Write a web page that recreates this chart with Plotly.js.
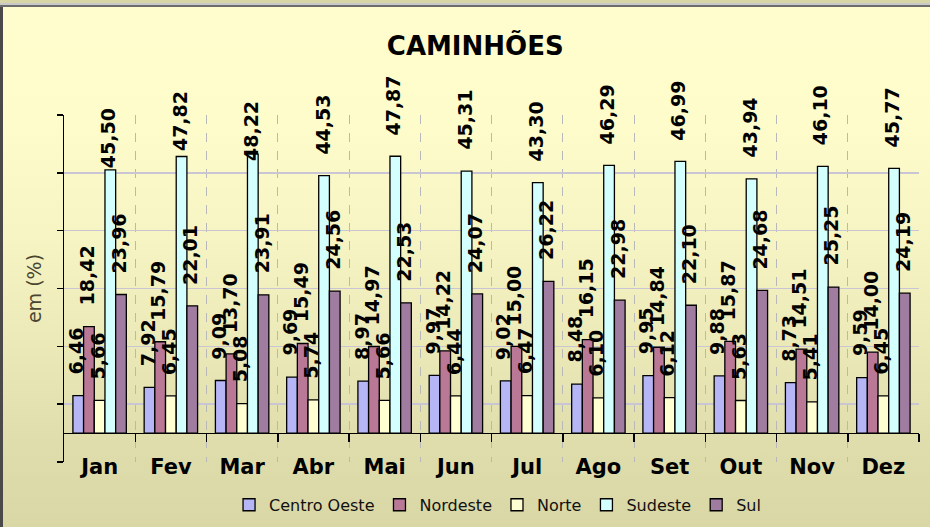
<!DOCTYPE html>
<html>
<head>
<meta charset="utf-8">
<script src="https://cdn.plot.ly/plotly-3.0.1.min.js"></script>
<style>
  html, body { margin: 0; padding: 0; }
  #wrap { position: relative; width: 930px; height: 527px; overflow: hidden; background: #d8d6a6; }
  #band1 { position: absolute; left: 0; top: 3px; width: 930px; height: 2px; background: #c9c9c9; }
  #band2 { position: absolute; left: 0; top: 5px; width: 930px; height: 2px; background: #6c6c6c; }
  #frame { position: absolute; left: 0; top: 7px; width: 930px; height: 520px; box-sizing: border-box;
           border-left: 3px solid #4a4a4a;
           background: linear-gradient(to bottom, #fffdcd 0%, #fefcca 22%, #f6f4c3 45%, #ebe9b8 65%, #dfddac 84%, #d9d7a6 100%); }
  #chart { position: absolute; left: 0; top: 0; width: 930px; height: 527px; }
</style>
</head>
<body>
<div id="wrap">
  <div id="band1"></div>
  <div id="band2"></div>
  <div id="frame"></div>
  <div id="chart"></div>
</div>
<script>
// ---- data ----
const months = ['Jan', 'Fev', 'Mar', 'Abr', 'Mai', 'Jun', 'Jul', 'Ago', 'Set', 'Out', 'Nov', 'Dez'];
const seriesNames = ['Centro Oeste', 'Nordeste', 'Norte', 'Sudeste', 'Sul'];
const centroOeste = [6.46, 7.92, 9.09, 9.69, 8.97, 9.97, 9.02, 8.48, 9.95, 9.88, 8.73, 9.59];
const nordeste    = [18.42, 15.79, 13.70, 15.49, 14.97, 14.22, 15.00, 16.15, 14.84, 15.87, 14.51, 14.00];
const norte       = [5.66, 6.45, 5.08, 5.74, 5.66, 6.44, 6.47, 6.10, 6.12, 5.63, 5.41, 6.45];
const sudeste     = [45.50, 47.82, 48.22, 44.53, 47.87, 45.31, 43.30, 46.29, 46.99, 43.94, 46.10, 45.77];
const sul         = [23.96, 22.01, 23.91, 24.56, 22.53, 24.07, 26.22, 22.98, 22.10, 24.68, 25.25, 24.19];

// ---- styles ----
const colors = ['#b6b6f6', '#b87896', '#ffffd2', '#d4ffff', '#a07ca0'];
const allSeries = [centroOeste, nordeste, norte, sudeste, sul];
const barWidth = 0.15;         // 5 bars * 0.15 = 0.75 group width (bargap 0.25)
const labelLift = 20;          // px gap between bar top and label
const labelNudge = {3: {0: -19, 1: -16, 2: -28}}; // manually lowered labels in the reference
const labelFont = {family: 'DejaVu Sans, Arial, sans-serif', size: 19, color: '#000000'};
const fmt = v => v.toFixed(2).replace('.', ',');

const xIdx = months.map((m, i) => i);

const traces = allSeries.map((vals, k) => ({
  type: 'bar',
  name: seriesNames[k],
  x: xIdx,
  y: vals,
  marker: {color: colors[k], line: {color: '#000000', width: 1.3}},
  hoverinfo: 'skip'
}));

const annotations = [];
allSeries.forEach((vals, k) => {
  vals.forEach((v, i) => {
    const nudge = (labelNudge[k] && labelNudge[k][i]) || 0;
    annotations.push({
      x: i + (k - 2) * barWidth,
      y: v,
      xref: 'x', yref: 'y',
      text: '<b>' + fmt(v) + '</b>',
      showarrow: false,
      textangle: -90,
      xanchor: 'center',
      yanchor: 'bottom',
      xshift: -2,
      yshift: labelLift + nudge,
      font: labelFont,
      borderpad: 0
    });
  });
});

const layout = {
  width: 930,
  height: 527,
  paper_bgcolor: 'rgba(0,0,0,0)',
  plot_bgcolor: 'rgba(0,0,0,0)',
  margin: {l: 64, r: 11, t: 115, b: 65},
  title: {
    text: '<b>CAMINHÕES</b>',
    font: {family: 'DejaVu Sans, Arial, sans-serif', size: 26, color: '#000000'},
    x: 0.511, xanchor: 'center', xref: 'container',
    y: 0.913, yanchor: 'middle', yref: 'container'
  },
  barmode: 'group',
  bargap: 0.25,
  bargroupgap: 0,
  showlegend: true,
  legend: {
    orientation: 'h',
    xref: 'container', x: 0.535, xanchor: 'center',
    yref: 'container', y: 0.042, yanchor: 'middle',
    font: {family: 'DejaVu Sans, Arial, sans-serif', size: 16, color: '#111111'},
    bgcolor: 'rgba(0,0,0,0)',
    itemwidth: 30,
    traceorder: 'normal'
  },
  xaxis: {
    type: 'linear',
    range: [-0.5, 11.5],
    tickmode: 'array',
    tickvals: xIdx,
    ticktext: months,
    ticks: '',
    showgrid: false,
    zeroline: false,
    showline: true,
    linecolor: '#000000',
    linewidth: 1.5,
    anchor: 'free',
    position: 0.0836,
    ticklabelstandoff: 14,
    tickfont: {family: 'DejaVu Sans, Arial, sans-serif', size: 21, color: '#000000', weight: 'bold'},
    minor: {
      tickmode: 'array',
      tickvals: xIdx.map(i => i + 0.5),
      ticks: 'outside',
      ticklen: 8,
      tickwidth: 1.5,
      tickcolor: '#000000',
      showgrid: true,
      gridcolor: '#b8b8b8',
      gridwidth: 1,
      griddash: 'dash'
    }
  },
  yaxis: {
    range: [-5, 55],
    tickmode: 'array',
    tickvals: [-5, 5, 15, 25, 35, 45, 55],
    ticks: 'outside',
    ticklen: 6,
    tickwidth: 1.5,
    tickcolor: '#000000',
    showticklabels: false,
    showgrid: false,
    zeroline: false,
    showline: true,
    linecolor: '#000000',
    linewidth: 1.5,
    minor: {
      tickmode: 'array',
      tickvals: [5, 15, 25, 35, 45, 55],
      ticks: '',
      showgrid: true,
      gridcolor: '#c9c5d4',
      gridwidth: 1.5
    },
    title: {
      text: 'em (%)',
      font: {family: 'DejaVu Sans, Arial, sans-serif', size: 19, color: '#4a4530'},
      standoff: 10
    }
  },
  annotations: annotations
};

Plotly.newPlot('chart', traces, layout, {staticPlot: true, displayModeBar: false});
</script>
</body>
</html>
